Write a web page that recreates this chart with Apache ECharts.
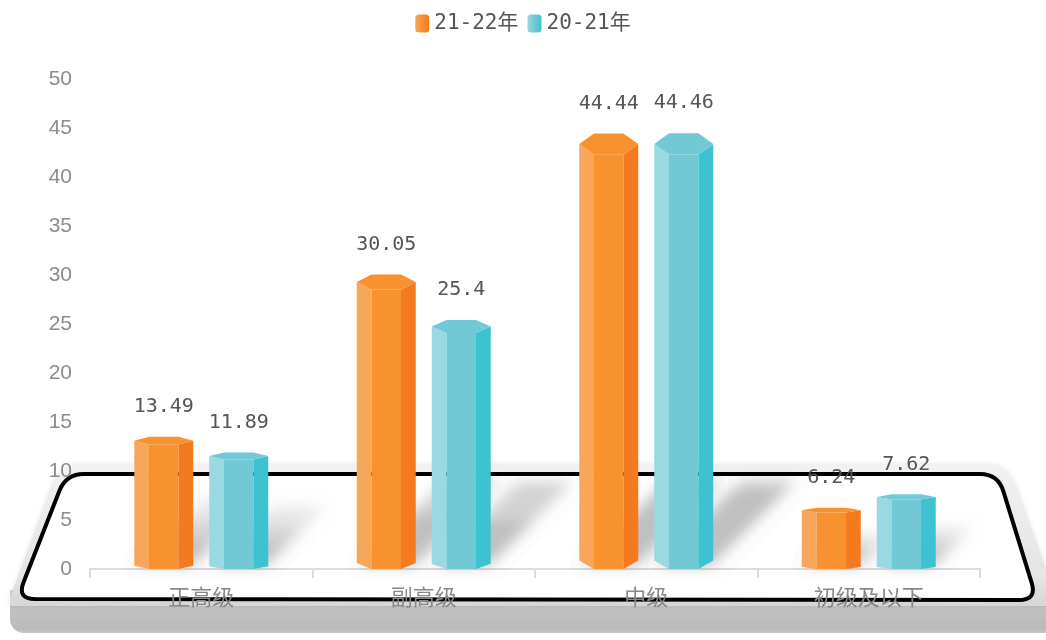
<!DOCTYPE html>
<html>
<head>
<meta charset="utf-8">
<title>职称结构</title>
<script src="https://cdn.jsdelivr.net/npm/echarts@6/dist/echarts.min.js"></script>
<style>
  html, body { margin: 0; padding: 0; background: #fff; }
  #main { width: 1046px; height: 640px; }
</style>
</head>
<body>
<div id="main"></div>
<script>
// 数据
const categories = ['正高级', '副高级', '中级', '初级及以下'];
const seriesNames = ['21-22年', '20-21年'];
const values2122 = [13.49, 30.05, 44.44, 6.24];
const values2021 = [11.89, 25.4, 44.46, 7.62];

// 三个面的颜色: 左 / 中 / 右
const orangeFaces = ['#f8a65a', '#f7922f', '#f47a20'];
const cyanFaces = ['#9ad8e2', '#71c9d6', '#3ec1d1'];

const labelFont = '"DejaVu Sans Mono", "Noto Sans CJK SC", monospace';

function linear(x, y, x2, y2, stops) {
  return {
    type: 'linear', x: x, y: y, x2: x2, y2: y2,
    colorStops: stops.map(function (s) { return { offset: s[0], color: s[1] }; })
  };
}

function faceGradient(c) {
  return linear(0, 0, 1, 0, [[0, c[0]], [0.5, c[1]], [1, c[2]]]);
}

// 圆角多边形: 每个角 [x, y, 圆角半径]
function roundedPoly(corners) {
  const pts = [];
  const n = corners.length;
  for (let i = 0; i < n; i++) {
    const p = corners[i], a = corners[(i + n - 1) % n], b = corners[(i + 1) % n];
    const r = p[2];
    if (!r) { pts.push([p[0], p[1]]); continue; }
    const la = Math.hypot(a[0] - p[0], a[1] - p[1]);
    const lb = Math.hypot(b[0] - p[0], b[1] - p[1]);
    const s = [p[0] + (a[0] - p[0]) * r / la, p[1] + (a[1] - p[1]) * r / la];
    const e = [p[0] + (b[0] - p[0]) * r / lb, p[1] + (b[1] - p[1]) * r / lb];
    for (let t = 0; t <= 1.0001; t += 0.125) {
      const u = 1 - t;
      pts.push([u * u * s[0] + 2 * u * t * p[0] + t * t * e[0], u * u * s[1] + 2 * u * t * p[1] + t * t * e[1]]);
    }
  }
  return pts;
}

// 六棱柱
function prismItem(offset, faces) {
  return function (params, api) {
    const idx = api.value(0);
    const val = api.value(1);
    const band = api.size([1, 0])[0];
    const base = api.coord([idx, 0]);
    const top = api.coord([idx, val]);
    const w = band * 0.265;
    const cx = base[0] + offset * band;
    const xl = cx - w / 2, xr = cx + w / 2;
    const x1 = xl + w * 0.25, x2 = xl + w * 0.75;
    const y0 = base[1], yt = top[1];
    const h = y0 - yt;
    const c = 1 + h * 0.022;
    const cb = c * 0.8;
    return {
      type: 'group',
      children: [
        { type: 'polygon', shape: { points: [[xl, yt + c], [x1, yt + 2 * c], [x1, y0], [xl, y0 - cb]] }, style: { fill: faces[0] } },
        { type: 'polygon', shape: { points: [[x1, yt + 2 * c], [x2, yt + 2 * c], [x2, y0], [x1, y0]] }, style: { fill: faces[1] } },
        { type: 'polygon', shape: { points: [[x2, yt + 2 * c], [xr, yt + c], [xr, y0 - cb], [x2, y0]] }, style: { fill: faces[2] } },
        { type: 'polygon', shape: { points: [[xl, yt + c], [x1, yt], [x2, yt], [xr, yt + c], [x2, yt + 2 * c], [x1, yt + 2 * c]] }, style: { fill: faces[1] } },
        { type: 'text', x: cx, y: yt - 30, style: { text: String(val), fill: '#555', font: '20px ' + labelFont, align: 'center', verticalAlign: 'middle' } }
      ]
    };
  };
}

// 斜向阴影 (模糊后的投影, 图形本身放在画布外)
const OFF = 3000;
function shadowItem(params, api) {
  const idx = api.value(0);
  const band = api.size([1, 0])[0];
  const base = api.coord([idx, 0]);
  const w = band * 0.265;
  const children = [];
  [[-0.1685, api.value(1)], [0.1685, api.value(2)]].forEach(function (p) {
    const top = api.coord([idx, p[1]]);
    const h = base[1] - top[1];
    const cx = base[0] + p[0] * band;
    const xs = cx - w / 2 + 4, xr = cx + w / 2 - 2;
    const y0 = base[1] - 4;
    [1, 0.65, 0.35].forEach(function (k) {
      let dx = h * 0.5 * k, dy = h * 0.5 * k;
      const limit = base[1] - 484;
      if (dy > limit) { dx = dx * limit / dy; dy = limit; }
      children.push({
        type: 'polygon',
        shape: { points: [[xs - OFF, y0], [xr - OFF, y0], [xr + dx - OFF, y0 - dy], [xs + dx - OFF, y0 - dy]] },
        style: {
          fill: '#000',
          shadowBlur: 14,
          shadowColor: 'rgba(0,0,0,0.09)',
          shadowOffsetX: OFF,
          shadowOffsetY: 0
        }
      });
    });
  });
  return { type: 'group', children: children };
}

const chart = echarts.init(document.getElementById('main'));

const option = {
  animation: false,
  legend: {
    data: seriesNames,
    top: 8,
    left: 'center',
    itemWidth: 14,
    itemHeight: 18,
    itemGap: 9,
    textStyle: { color: '#555', fontSize: 21, fontFamily: labelFont }
  },
  grid: { left: 90, right: 66, top: 79, bottom: 71 },
  graphic: [
    {
      type: 'rect',
      z: -11,
      shape: { x: 10, y: 590, width: 1060, height: 43, r: [0, 0, 0, 14] },
      style: { fill: linear(0, 0, 0, 1, [[0, '#d6d6d6'], [0.4, '#c2c2c2'], [0.9, '#bbbbbb'], [1, '#c8c8c8']]) }
    },
    {
      type: 'polygon',
      z: -10,
      shape: { points: roundedPoly([[60, 464, 22], [1008, 464, 22], [1060, 606, 0], [10, 606, 0], [10, 598, 0]]) },
      style: {
        fill: linear(0, 0, 0, 1, [[0, '#f2f2f2'], [0.8, '#e4e4e4'], [1, '#d6d6d6']]),
        shadowBlur: 5,
        shadowColor: 'rgba(0,0,0,0.10)'
      }
    },
    {
      type: 'polygon',
      z: -9,
      shape: { points: roundedPoly([[66, 474, 18], [998, 474, 18], [1037, 600, 18], [17, 599, 18]]) },
      style: { fill: '#fff', stroke: '#000', lineWidth: 4 }
    }
  ],
  xAxis: {
    type: 'category',
    data: categories,
    axisLine: { lineStyle: { color: '#dcdcdc', width: 2 } },
    axisTick: { show: true, length: 9, lineStyle: { color: '#dcdcdc', width: 2 } },
    axisLabel: { color: '#888', fontSize: 22, margin: 17, fontFamily: '"Noto Sans CJK SC", sans-serif' }
  },
  yAxis: {
    type: 'value',
    min: 0,
    max: 50,
    interval: 5,
    axisLine: { show: false },
    axisTick: { show: false },
    splitLine: { show: false },
    axisLabel: { color: '#8c8c8c', fontSize: 21, margin: 18, fontFamily: '"Liberation Sans", Arial, sans-serif' }
  },
  series: [
    {
      name: 'shadow',
      type: 'custom',
      z: 1,
      silent: true,
      renderItem: shadowItem,
      encode: { x: 0, y: [1, 2] },
      data: categories.map(function (c, i) { return [i, values2122[i], values2021[i]]; })
    },
    {
      name: seriesNames[0],
      type: 'custom',
      z: 3,
      renderItem: prismItem(-0.1685, orangeFaces),
      itemStyle: { color: faceGradient(orangeFaces) },
      encode: { x: 0, y: 1 },
      data: values2122.map(function (v, i) { return [i, v]; })
    },
    {
      name: seriesNames[1],
      type: 'custom',
      z: 3,
      renderItem: prismItem(0.1685, cyanFaces),
      itemStyle: { color: faceGradient(cyanFaces) },
      encode: { x: 0, y: 1 },
      data: values2021.map(function (v, i) { return [i, v]; })
    }
  ]
};

chart.setOption(option);
</script>
</body>
</html>
